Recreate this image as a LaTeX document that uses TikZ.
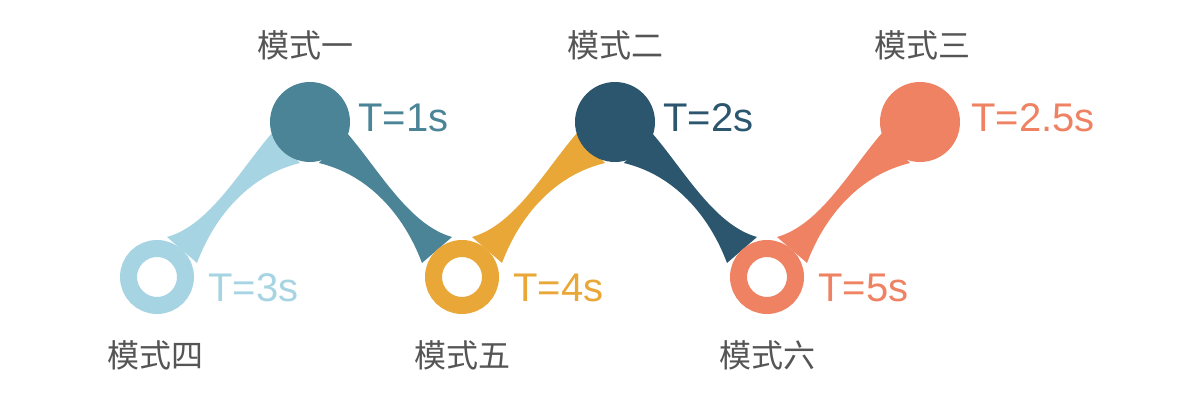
\documentclass[tikz,border=0pt]{standalone}
\usepackage{fontspec}
\setmainfont{Liberation Sans}
\newfontfamily\cjk{Noto Sans CJK SC}
\definecolor{cA}{HTML}{A6D4E2}
\definecolor{cB}{HTML}{4A8496}
\definecolor{cC}{HTML}{E8A736}
\definecolor{cD}{HTML}{2C566E}
\definecolor{cE}{HTML}{EE8262}
\definecolor{tx}{HTML}{555555}
\tikzset{
 topc/.style={circle,minimum size=80pt,inner sep=0pt},
 ring/.style={circle,minimum size=57pt,inner sep=0pt,line width=17pt,fill=white},
 tlab/.style={anchor=west,font=\fontsize{40}{40}\selectfont},
 mlab/.style={text=tx,font=\cjk\fontsize{32}{32}\selectfont}
}
\newcommand{\myband}[1]{\fill[#1] (10,-40) .. controls (53,-52) and (83,-107) .. (115,-144) -- (143,-114) .. controls (93,-102) and (58,-62) .. (40,-14) -- cycle;}
\begin{document}
\begin{tikzpicture}[x=1pt,y=-1pt]
\useasboundingbox (0,0) rectangle (1200,411);
\begin{scope}[shift={(157,277)}]\myband{cA}\end{scope}
\begin{scope}[shift={(462,277)},xscale=-1]\myband{cB}\end{scope}
\node[topc,fill=cB] (t1) at (310,122) {};
\begin{scope}[shift={(462,277)}]\myband{cC}\end{scope}
\begin{scope}[shift={(767,277)},xscale=-1]\myband{cD}\end{scope}
\node[topc,fill=cD] (t2) at (615,122) {};
\begin{scope}[shift={(767,277)}]\myband{cE}\end{scope}
\node[topc,fill=cE] (t3) at (920,122) {};
\node[ring,draw=cA] (b1) at (157,277) {};
\node[ring,draw=cC] (b2) at (462,277) {};
\node[ring,draw=cE] (b3) at (767,277) {};
\node[tlab,text=cB] at (355,118) {T=1s};
\node[tlab,text=cD] at (660,118) {T=2s};
\node[tlab,text=cE] at (968,118) {T=2.5s};
\node[tlab,text=cA] at (205,288) {T=3s};
\node[tlab,text=cC] at (510,288) {T=4s};
\node[tlab,text=cE] at (815,288) {T=5s};
\node[mlab] at (305,45) {模式一};
\node[mlab] at (615,45) {模式二};
\node[mlab] at (922,45) {模式三};
\node[mlab] at (155,355) {模式四};
\node[mlab] at (462,355) {模式五};
\node[mlab] at (767,355) {模式六};
\end{tikzpicture}
\end{document}
